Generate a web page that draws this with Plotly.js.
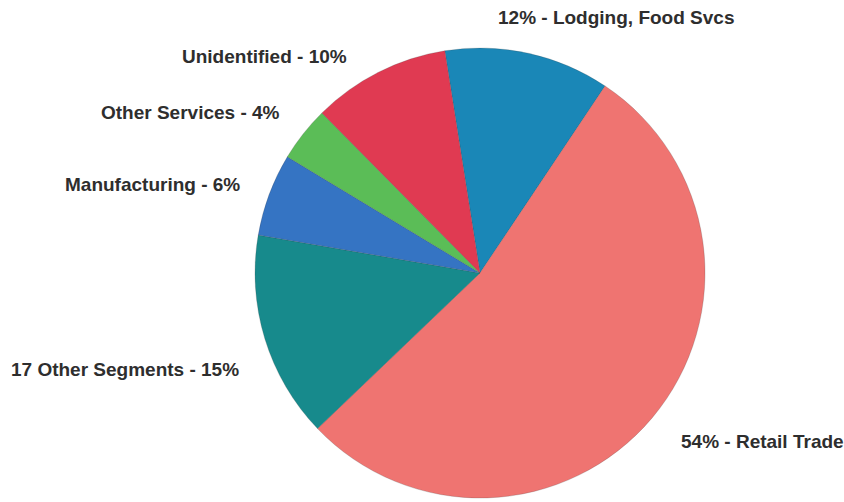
<!DOCTYPE html>
<html>
<head>
<meta charset="utf-8">
<script src="https://cdn.plot.ly/plotly-3.0.1.min.js"></script>
<style>html,body{margin:0;padding:0;background:#fff;}#chart{width:844px;height:502px;}</style>
</head>
<body>
<div id="chart"></div>
<script>
// Data (clockwise from the top)
var segments = ["Lodging, Food Svcs", "Retail Trade", "17 Other Segments", "Manufacturing", "Other Services", "Unidentified"];
var shares = [12, 54, 15, 6, 4, 10];
var sliceColors = ["#1a87b7", "#ef7471", "#178a8c", "#3574c3", "#5bbd57", "#e03a52"];
var labelTexts = ["12% - Lodging, Food Svcs", "54% - Retail Trade", "17 Other Segments - 15%", "Manufacturing - 6%", "Other Services - 4%", "Unidentified - 10%"];

// Label placement (pixels in the 844x502 canvas)
var W = 844, H = 502;
var labelPos = [
  {x: 496, y: 18, anchor: "left"},
  {x: 679, y: 441, anchor: "left"},
  {x: 241, y: 369, anchor: "right"},
  {x: 242, y: 184, anchor: "right"},
  {x: 282, y: 112, anchor: "right"},
  {x: 349, y: 56, anchor: "right"}
];

var annotations = labelTexts.map(function(t, i) {
  var p = labelPos[i];
  return {
    text: "<b>" + t + "</b>", xref: "paper", yref: "paper",
    x: p.x / W, y: 1 - p.y / H,
    xanchor: p.anchor, yanchor: "middle",
    showarrow: false,
    font: {family: "Liberation Sans, Arial, sans-serif", size: 19, color: "#2e2e2e"}
  };
});

var cx = 480, cy = 273, r = 225;
var trace = {
  type: "pie",
  labels: segments,
  values: shares,
  sort: false,
  direction: "clockwise",
  rotation: -9,
  textinfo: "none",
  hoverinfo: "label+percent",
  marker: {colors: sliceColors, line: {color: "rgba(60,60,60,0.35)", width: 0.6}},
  domain: {x: [(cx - r) / W, (cx + r) / W], y: [1 - (cy + r) / H, 1 - (cy - r) / H]}
};

var layout = {
  width: W, height: H,
  margin: {l: 0, r: 0, t: 0, b: 0},
  paper_bgcolor: "#fff",
  showlegend: false,
  annotations: annotations
};

Plotly.newPlot("chart", [trace], layout, {displayModeBar: false, staticPlot: true});
</script>
</body>
</html>
